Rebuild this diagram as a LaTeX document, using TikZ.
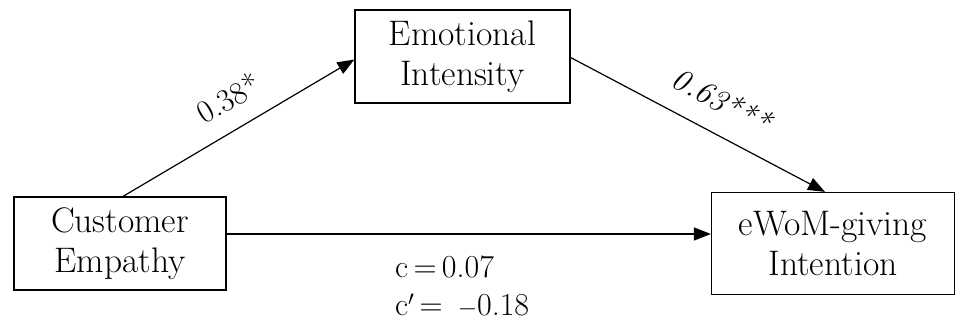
\documentclass[tikz,border=0pt]{standalone}
\usetikzlibrary{arrows.meta}
\begin{document}
\begin{tikzpicture}[x=1pt,y=-1pt,
  box/.style={draw, line width=1.2pt, inner sep=0pt, align=center, font=\fontsize{35.5}{40}\selectfont},
  arr/.style={line width=1.2pt, -{Triangle[length=17pt,width=13pt]}},
  lbl/.style={font=\fontsize{32}{37}\selectfont, inner sep=0pt}]
\useasboundingbox (0,0) rectangle (956,323);
\node[box, minimum width=212pt, minimum height=93pt] (CE) at (120,243.5) {Customer\\Empathy};
\node[box, minimum width=215pt, minimum height=93pt] (EI) at (462.5,56.5) {Emotional\\Intensity};
\node[box, minimum width=243pt, minimum height=102pt] (EW) at (833,243.5) {eWoM-giving\\Intention};
\draw[arr] ([xshift=3pt]CE.north) -- ([yshift=-3pt]EI.west);
\draw[arr] ([yshift=-1pt]EI.east) -- ([xshift=-8pt]EW.north);
\draw[arr] ([yshift=9.5pt]CE.east) -- ([yshift=9.5pt]CE.east -| EW.west);
\node[lbl, rotate=30] (l1) at (228,98) {0.38*};
\node[lbl, rotate=-28, font=\fontsize{32}{37}\selectfont\itshape] (l2) at (722,100) {0.63***};
\node[lbl, anchor=base west] (c1) at (395,277) {c\,=\,0.07};
\node[lbl, anchor=base west] (c2) at (395,315) {c$'$\,=\, $-$0.18};
\end{tikzpicture}
\end{document}
